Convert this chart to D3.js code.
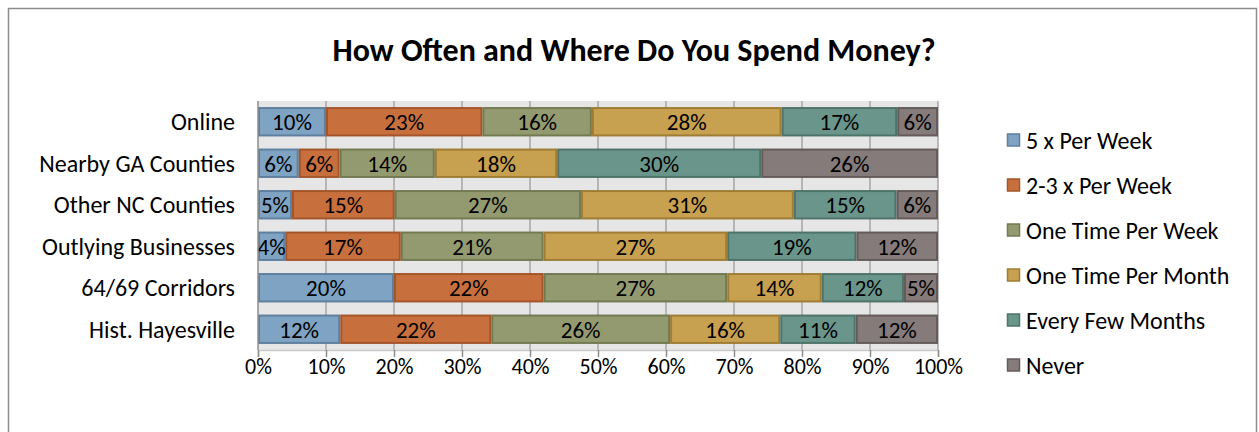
<!DOCTYPE html>
<html>
<head>
<meta charset="utf-8">
<script src="https://cdn.jsdelivr.net/npm/d3@7"></script>
<style>
  body { margin: 0; background: #fff; }
  svg text { font-family: Carlito, Calibri, Lato, sans-serif; fill: #000; }
</style>
</head>
<body>
<div id="chart"></div>
<script>
// Chart data
const categories = [
  'Online',
  'Nearby GA Counties',
  'Other NC Counties',
  'Outlying Businesses',
  '64/69 Corridors',
  'Hist. Hayesville'
];

const seriesNames = [
  '5 x Per Week',
  '2-3 x Per Week',
  'One Time Per Week',
  'One Time Per Month',
  'Every Few Months',
  'Never'
];

// one array per series, in category order (percent)
const fivePerWeek    = [10, 6, 5.0, 4, 20, 12.1];
const twoThreeWeek   = [23, 6, 15.1, 17, 22, 22.2];
const oncePerWeek    = [16.1, 14, 27.4, 21, 27, 26.3];
const oncePerMonth   = [27.9, 18, 31.3, 27, 13.9, 16.2];
const everyFewMonths = [17, 30, 15.1, 19, 12.1, 11.1];
const never          = [6, 26, 6.1, 12, 5, 12.1];

const tickValues = [0, 10, 20, 30, 40, 50, 60, 70, 80, 90, 100];

const fills   = ['#7fa3c2', '#c8703d', '#949a70', '#c7a050', '#6a958a', '#857b7b'];
const strokes = ['#5f7f9f', '#a4552a', '#727a52', '#9f7d35', '#4e7469', '#655b5b'];

const width = 1259;
const height = 432;
const margin = { top: 101, left: 258, right: 321, bottom: 82 };
const plotW = width - margin.left - margin.right;   // 680
const plotH = height - margin.top - margin.bottom;  // 249

const svg = d3
  .select('#chart')
  .append('svg')
  .attr('width', width)
  .attr('height', height);

// Shadow for the axis tick marks
const defs = svg.append('defs');
const blur = defs.append('filter').attr('id', 'tickShadow')
  .attr('x', '-200%').attr('y', '-50%').attr('width', '500%').attr('height', '250%');
blur.append('feGaussianBlur').attr('stdDeviation', 2.5);

// Outer chart frame
svg.append('rect')
  .attr('x', 8.5)
  .attr('y', 8.5)
  .attr('width', 1248)
  .attr('height', 440)
  .attr('fill', '#fff')
  .attr('stroke', '#8c8c8c')
  .attr('stroke-width', 1.5);

// Title
svg.append('text')
  .attr('x', 634)
  .attr('y', 61)
  .attr('text-anchor', 'middle')
  .style('font-size', '32px')
  .style('font-weight', 'bold')
  .text('How Often and Where Do You Spend Money?');

// Scales
const x = d3.scaleLinear().domain([0, 100]).range([0, plotW]);
const y = d3.scaleBand()
  .domain(categories)
  .range([0, plotH])
  .paddingInner(0.34)
  .paddingOuter(0.17);

const g = svg.append('g')
  .attr('transform', `translate(${margin.left},${margin.top})`);

// Plot background
g.append('rect')
  .attr('width', plotW)
  .attr('height', plotH)
  .attr('fill', '#e6e6e6');

// Vertical gridlines
g.selectAll('line.grid')
  .data(tickValues.slice(1))
  .enter()
  .append('line')
  .attr('class', 'grid')
  .attr('x1', (d) => x(d))
  .attr('x2', (d) => x(d))
  .attr('y1', 0)
  .attr('y2', plotH)
  .attr('stroke', '#a6a6a6')
  .attr('stroke-width', 1.5);

// Stack the series
const table = categories.map((c, i) => ({
  category: c,
  s0: fivePerWeek[i],
  s1: twoThreeWeek[i],
  s2: oncePerWeek[i],
  s3: oncePerMonth[i],
  s4: everyFewMonths[i],
  s5: never[i]
}));
const keys = ['s0', 's1', 's2', 's3', 's4', 's5'];
const stacked = d3.stack().keys(keys)(table);

const layers = g.selectAll('g.layer')
  .data(stacked)
  .enter()
  .append('g')
  .attr('class', 'layer');

layers.selectAll('rect')
  .data((d, i) => d.map((p) => ({ p, i })))
  .enter()
  .append('rect')
  .attr('x', (d) => x(d.p[0]) + 1)
  .attr('y', (d) => y(d.p.data.category))
  .attr('width', (d) => x(d.p[1]) - x(d.p[0]) - 2)
  .attr('height', y.bandwidth())
  .attr('fill', (d) => fills[d.i])
  .attr('stroke', (d) => strokes[d.i])
  .attr('stroke-width', 2);

layers.selectAll('text')
  .data((d) => d)
  .enter()
  .append('text')
  .attr('x', (d) => x((d[0] + d[1]) / 2))
  .attr('y', (d) => y(d.data.category) + y.bandwidth() / 2)
  .attr('dy', '0.36em')
  .attr('text-anchor', 'middle')
  .style('font-size', '23px')
  .text((d) => Math.round(d[1] - d[0]) + '%');

// Left axis line
g.append('line')
  .attr('x1', 0).attr('x2', 0)
  .attr('y1', 0).attr('y2', plotH)
  .attr('stroke', '#8c8c8c')
  .attr('stroke-width', 1.5);

// Category labels
g.selectAll('text.cat')
  .data(categories)
  .enter()
  .append('text')
  .attr('class', 'cat')
  .attr('x', -23)
  .attr('y', (d) => y(d) + y.bandwidth() / 2)
  .attr('dy', '0.36em')
  .attr('text-anchor', 'end')
  .style('font-size', '24px')
  .text((d) => d);

// Bottom axis: shadow of tick marks, then the axis itself
const axisG = g.append('g').attr('transform', `translate(0,${plotH})`);

axisG.selectAll('line.shadow')
  .data(tickValues)
  .enter()
  .append('line')
  .attr('class', 'shadow')
  .attr('x1', (d) => x(d) + 3)
  .attr('x2', (d) => x(d) + 3)
  .attr('y1', 5)
  .attr('y2', 13)
  .attr('stroke', '#c8c8c8')
  .attr('stroke-width', 5)
  .attr('filter', 'url(#tickShadow)');

const xAxis = d3.axisBottom(x)
  .tickValues(tickValues)
  .tickSize(7)
  .tickPadding(1)
  .tickFormat((d) => d + '%');

axisG.call(xAxis);
axisG.select('.domain').attr('stroke', '#c8c8c8').attr('stroke-width', 1.5);
axisG.selectAll('.tick line').attr('stroke', '#8c8c8c').attr('stroke-width', 1.5);
axisG.selectAll('.tick text')
  .style('font-size', '22px')
  .style('font-family', 'Carlito, Calibri, Lato, sans-serif')
  .attr('fill', '#000');

// Legend
const legend = svg.append('g')
  .attr('transform', 'translate(1007,140)');

const items = legend.selectAll('g.item')
  .data(seriesNames)
  .enter()
  .append('g')
  .attr('class', 'item')
  .attr('transform', (d, i) => `translate(0,${i * 45})`);

items.append('rect')
  .attr('x', 0.5)
  .attr('y', -6)
  .attr('width', 12)
  .attr('height', 12)
  .attr('fill', (d, i) => fills[i])
  .attr('stroke', (d, i) => strokes[i])
  .attr('stroke-width', 1.5);

items.append('text')
  .attr('x', 19)
  .attr('y', 0)
  .attr('dy', '0.36em')
  .style('font-size', '24px')
  .text((d) => d);
</script>
</body>
</html>
